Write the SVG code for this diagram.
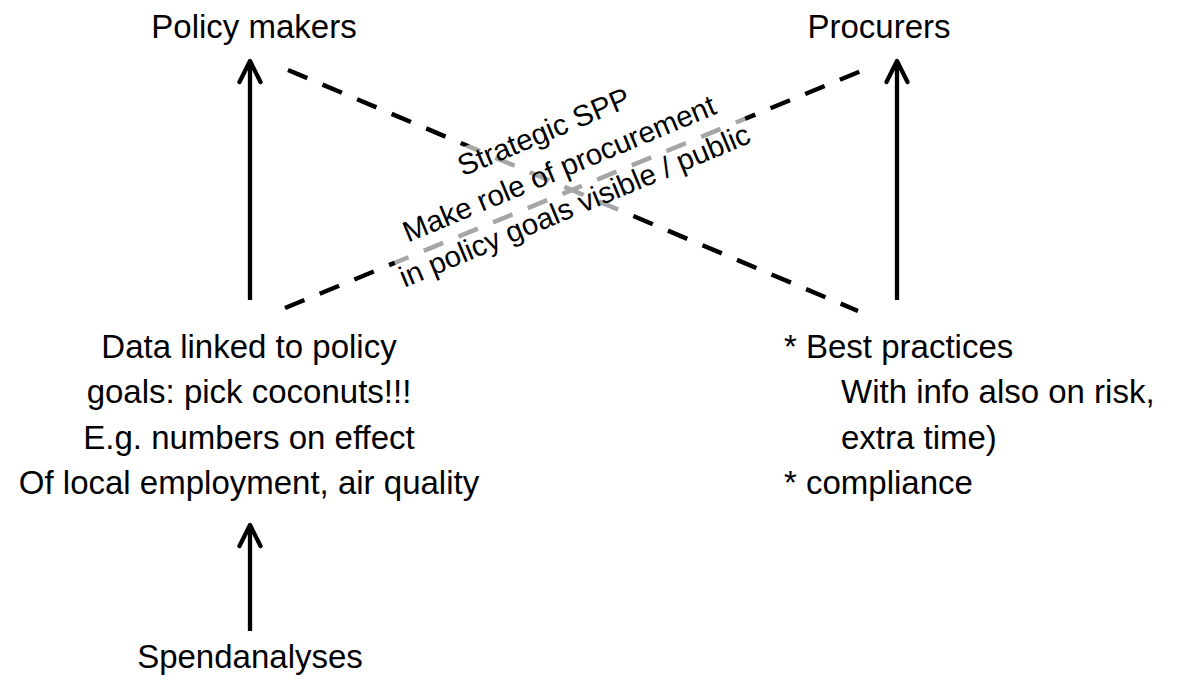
<svg xmlns="http://www.w3.org/2000/svg" width="1177" height="688" viewBox="0 0 1177 688">
  <style>
    .t { font-family: "Liberation Sans", Arial, sans-serif; font-size: 33px; fill: #000; }
    .c { text-anchor: middle; }
    .rt { font-family: "Liberation Sans", Arial, sans-serif; font-size: 29.5px; fill: #000; text-anchor: middle; }
    .solid { stroke: #000; stroke-width: 4.3; fill: none; marker-end: url(#head); }
    .dash { stroke: #000; stroke-width: 4.5; fill: none; stroke-dasharray: 21 16.5; }
  </style>
  <defs>
    <marker id="head" markerUnits="userSpaceOnUse" viewBox="-30 -20 40 40" markerWidth="40" markerHeight="40" refX="0" refY="0" orient="auto" overflow="visible">
      <path d="M-21,-10.5 L0,0 L-21,10.5" fill="none" stroke="#000" stroke-width="4.3" stroke-linecap="round" stroke-linejoin="round"/>
    </marker>
  </defs>
  <rect width="1177" height="688" fill="#fff"/>

  <g id="connectors">
    <line class="dash" x1="288" y1="70" x2="858" y2="311"/>
    <line class="dash" x1="285" y1="308" x2="866" y2="69"/>
    <line class="solid" x1="250" y1="300" x2="250" y2="61"/>
    <line class="solid" x1="897" y1="300" x2="897" y2="61"/>
    <line class="solid" x1="250" y1="631" x2="250" y2="525"/>
  </g>

  <g id="strategic-label" transform="translate(563,178) rotate(-22.7)">
    <rect x="-188" y="-67" width="379" height="125" fill="#fff" fill-opacity="0.65"/>
    <text class="rt" x="0" y="-40">Strategic SPP</text>
    <text class="rt" x="0" y="0">Make role of procurement</text>
    <text class="rt" x="0" y="40">in policy goals visible / public</text>
  </g>

  <g id="policy-makers">
    <text class="t c" x="254" y="38">Policy makers</text>
  </g>
  <g id="procurers">
    <text class="t c" x="879" y="38">Procurers</text>
  </g>
  <g id="data-block">
    <text class="t c" x="249" y="357.5">Data linked to policy</text>
    <text class="t c" x="249" y="403">goals: pick coconuts!!!</text>
    <text class="t c" x="249" y="448.5">E.g. numbers on effect</text>
    <text class="t c" x="249" y="494">Of local employment, air quality</text>
  </g>
  <g id="practices-block">
    <text class="t" x="784" y="357.5">* Best practices</text>
    <text class="t" x="841" y="403">With info also on risk,</text>
    <text class="t" x="841" y="448.5">extra time)</text>
    <text class="t" x="784" y="494">* compliance</text>
  </g>
  <g id="spendanalyses">
    <text class="t c" x="250" y="668">Spendanalyses</text>
  </g>
</svg>
